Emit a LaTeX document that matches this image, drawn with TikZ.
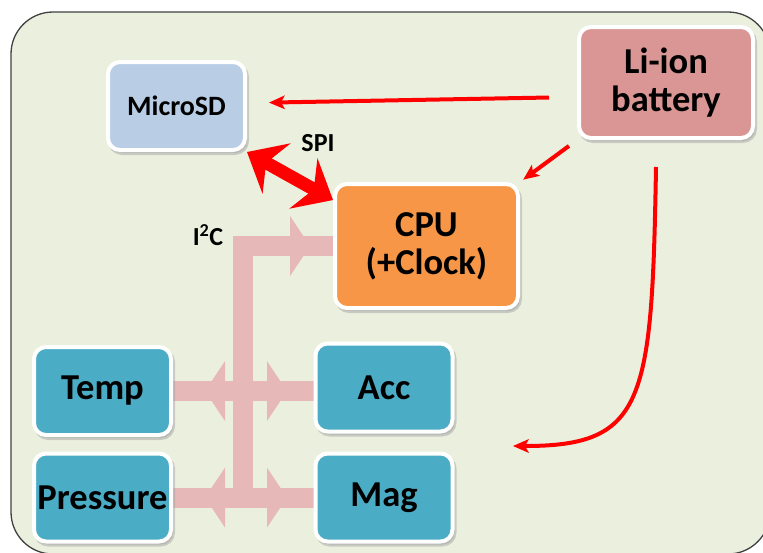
\documentclass[tikz,border=0pt]{standalone}
\usepackage{fontspec}
\setmainfont{Carlito}
\usetikzlibrary{arrows.meta,shadows,decorations.markings}
\definecolor{panelbg}{RGB}{235,240,222}
\definecolor{sdblue}{RGB}{185,205,229}
\definecolor{battred}{RGB}{217,150,148}
\definecolor{cpuorange}{RGB}{247,150,70}
\definecolor{sensorblue}{RGB}{75,172,198}
\definecolor{buspink}{RGB}{230,185,184}
\pgfdeclarelayer{back}
\pgfdeclarelayer{wires}
\pgfsetlayers{back,wires,main}
\tikzset{
  panel/.style={draw=black!75, line width=1.3pt, fill=panelbg, rounded corners=42pt},
  box/.style={draw=white, line width=4pt, rounded corners=12pt, inner sep=0pt, align=center, text=black,
    font=\bfseries\fontsize{36.5}{38}\selectfont,
    drop shadow={shadow xshift=2pt, shadow yshift=-3pt, draw=black!35, fill=black!35}},
  sensor/.style={box, fill=sensorblue, minimum width=137pt, minimum height=88pt},
  lbl/.style={inner sep=0pt, font=\bfseries\fontsize{26}{28}\selectfont},
  power tip/.tip={Stealth[length=16pt, width=14pt, inset=4pt, line width=0pt]},
  spi tip/.tip={Stealth[length=34pt, width=58pt, inset=12pt, line width=0pt]},
  bus tip/.tip={Triangle[length=20pt, width=60pt, line width=0pt]},
  powerline/.style={draw=red, line width=4pt, -{power tip}},
  spilink/.style={draw=red, line width=13pt, {spi tip}-{spi tip}},
  busline/.style={draw=buspink, line width=20pt},
  uptip/.style={postaction={decorate}, decoration={markings, mark=at position -23pt with {\arrow{bus tip}}}},
  twoway/.style={postaction={decorate}, decoration={markings,
    mark=at position 32pt with {\arrowreversed{bus tip}}, mark=at position 114pt with {\arrow{bus tip}}}}
}
\begin{document}
\begin{tikzpicture}[x=1pt, y=-1pt, line join=miter]
\useasboundingbox (0,0) rectangle (763,552);
\begin{pgfonlayer}{back}
\draw[panel] (11,12) rectangle (770,554);
\end{pgfonlayer}
% boxes
\node[box, fill=sdblue, minimum width=137pt, minimum height=88pt, font=\bfseries\fontsize{28}{30}\selectfont] (microsd) at (176.5,106) {MicroSD};
\node[box, fill=battred, minimum width=174pt, minimum height=111pt] (battery) at (666,82.5) {Li-ion\\battery};
\node[box, fill=cpuorange, minimum width=183pt, minimum height=124pt] (cpu) at (426.5,246) {CPU\\(+Clock)};
\foreach \n/\t/\x/\y in {temp/Temp/102.5/391, pressure/Pressure/102.5/497.5, acc/Acc/384/387.5, mag/Mag/384/497.5}
  \node[sensor] (\n) at (\x,\y) {\t};
\coordinate (busend) at (243,505);
\coordinate (sensors) at (513,446);
\node[lbl] (spi) at (318,143) {SPI};
\node[lbl] (i2c) at (208,235) {I\textsuperscript{2}C};
% connectors
\begin{pgfonlayer}{wires}
\draw[busline, uptip] (busend) |- (cpu.west);
\draw[busline, twoway] (temp.east) -- (temp.east -| acc.west);
\draw[busline, twoway] (pressure.east) -- (mag.west);
\draw[spilink] (microsd.south east) -- ([yshift=-18pt]cpu.north west);
\draw[powerline, shorten <=28pt, shorten >=22pt] ([yshift=-14.5pt]battery.west) -- ([yshift=3pt]microsd.east);
\draw[powerline, shorten <=10pt, shorten >=4pt] (battery.south west) -- (cpu.north east);
\draw[powerline] ([xshift=-10pt,yshift=-27pt]battery.south) .. controls +(-4,235) and +(132,0) .. (sensors);
\end{pgfonlayer}
\end{tikzpicture}
\end{document}
